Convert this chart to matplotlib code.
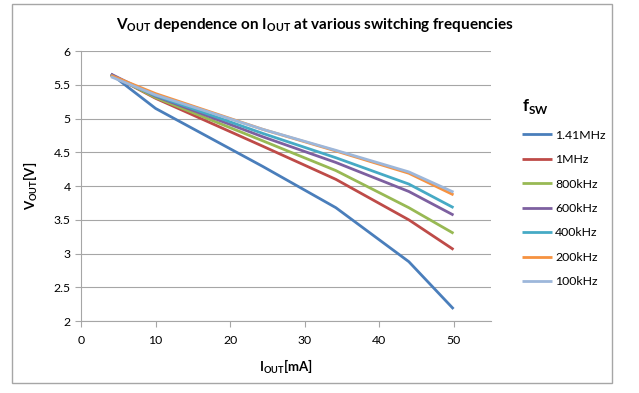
import matplotlib
matplotlib.use("Agg")
import matplotlib.pyplot as plt
from matplotlib.patches import Rectangle

plt.rcParams['font.family'] = ['Lato', 'DejaVu Sans']
plt.rcParams['mathtext.fontset'] = 'custom'
plt.rcParams['mathtext.rm'] = 'Lato'
plt.rcParams['mathtext.bf'] = 'Lato:bold'

# Output current [mA]
i_out = [4, 10, 24.4, 34.2, 44, 50]

# Output voltage [V] per switching frequency
v_141mhz = [5.66, 5.15, 4.29, 3.68, 2.88, 2.18]
v_1mhz = [5.65, 5.30, 4.59, 4.10, 3.50, 3.06]
v_800khz = [5.65, 5.31, 4.67, 4.23, 3.68, 3.30]
v_600khz = [5.66, 5.33, 4.73, 4.35, 3.92, 3.57]
v_400khz = [5.64, 5.34, 4.78, 4.42, 4.03, 3.68]
v_200khz = [5.64, 5.37, 4.84, 4.52, 4.19, 3.87]
v_100khz = [5.62, 5.35, 4.84, 4.53, 4.21, 3.91]

labels = ['1.41MHz', '1MHz', '800kHz', '600kHz', '400kHz', '200kHz', '100kHz']
colors = ['#4A7EBB', '#BE4B48', '#98B954', '#7D60A0', '#46AAC5', '#F69240', '#9DB7DA']
series = [v_141mhz, v_1mhz, v_800khz, v_600khz, v_400khz, v_200khz, v_100khz]

fig = plt.figure(figsize=(6.39, 3.93), dpi=100)
ax = fig.add_axes([0.127, 0.183, 0.641, 0.687])

for v, lab, c in zip(series, labels, colors):
    ax.plot(i_out, v, color=c, linewidth=2.0, label=lab, solid_capstyle='butt')

ax.set_xlim(0, 55)
ax.set_ylim(2, 6)
ax.set_xticks(range(0, 51, 10))
ax.set_yticks([2, 2.5, 3, 3.5, 4, 4.5, 5, 5.5, 6])
ax.set_yticklabels(['2', '2.5', '3', '3.5', '4', '4.5', '5', '5.5', '6'])
ax.yaxis.grid(True, color='#A6A6A6', linewidth=0.8)
ax.set_axisbelow(True)

for s in ['top', 'right']:
    ax.spines[s].set_visible(False)
for s in ['left', 'bottom']:
    ax.spines[s].set_color('#A6A6A6')
ax.tick_params(colors='#A6A6A6', labelcolor='black', labelsize=8.8, length=4)
ax.tick_params(axis='x', pad=6)

ax.set_xlabel(r'I$_{\mathbf{OUT}}$[mA]', fontsize=9.5, fontweight='bold')
ax.set_ylabel(r'V$_{\mathbf{OUT}}$[V]', fontsize=9.5, fontweight='bold')
ax.xaxis.set_label_coords(0.5, -0.135)
ax.yaxis.set_label_coords(-0.1, 0.5)

fig.text(0.492, 0.937, r'V$_{\mathbf{OUT}}$ dependence on I$_{\mathbf{OUT}}$ at various switching frequencies',
         ha='center', va='center', fontsize=11, fontweight='bold')

leg = ax.legend(loc='upper left', bbox_to_anchor=(1.05, 0.87), frameon=False,
                title=r'f$_{\mathbf{SW}}$', fontsize=8.8,
                handlelength=2.4, handletextpad=0.3, labelspacing=1.1)
leg.get_title().set_fontsize(12)
leg.get_title().set_fontweight('bold')
leg._legend_box.align = 'left'

fig.patches.append(Rectangle((12 / 639, 1 - 383 / 393), 600 / 639, 379 / 393,
                             transform=fig.transFigure, fill=False,
                             edgecolor='#A6A6A6', linewidth=1.0))

fig.savefig('out.png', dpi=100)
